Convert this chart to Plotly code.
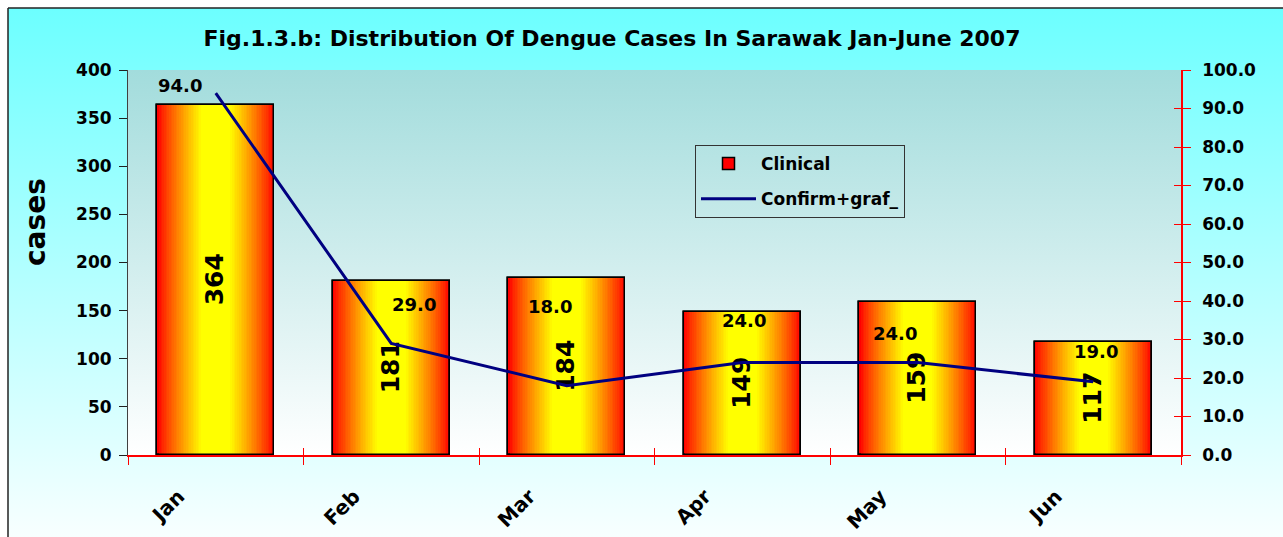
import base64
import plotly.graph_objects as go

months = ["Jan", "Feb", "Mar", "Apr", "May", "Jun"]
clinical = [364, 181, 184, 149, 159, 117]
confirm = [94.0, 29.0, 18.0, 24.0, 24.0, 19.0]

# label offsets (styling) for the line data labels, in px
lab_dx = [-36, 23, -17, 2, -23, 3]
lab_dy = [8, 39, 79, 42, 29, 30]

W, H = 1283, 537
L, R, T, B = 128, 102, 70, 82
PW, PH = W - L - R, H - T - B

FONT = "DejaVu Sans"


def grad_svg(stops):
    st = "".join(f'<stop offset="{o}" stop-color="{c}"/>' for o, c in stops)
    svg = ('<svg xmlns="http://www.w3.org/2000/svg" width="100" height="100" '
           'preserveAspectRatio="none" viewBox="0 0 100 100">'
           '<defs><linearGradient id="g" x1="0" y1="0" x2="0" y2="1">' + st +
           '</linearGradient></defs><rect x="0" y="0" width="100" height="100" fill="url(#g)"/></svg>')
    return "data:image/svg+xml;base64," + base64.b64encode(svg.encode()).decode()


def px_x(px):
    return (px - L) / PW


def px_y(py):
    return (H - B - py) / PH


fig = go.Figure()

# gradient bars: overlay bars of decreasing width
full_w = 0.667
N = 26
for i in range(N + 1):
    d = 1.0 - i * (0.75 / N)
    t = max(0.0, (d - 0.25) / 0.75)
    g = int(round(255 * (1 - t) ** 0.85))
    col = f"rgb(255,{g},0)"
    first = i == 0
    fig.add_trace(go.Bar(
        x=months, y=clinical, width=full_w * d,
        marker=dict(color=col, line=dict(color="black", width=1.5 if first else 0)),
        name="Clinical", showlegend=first, legendgroup="bars",
        hoverinfo="skip" if not first else None,
    ))

# outline + value text
fig.add_trace(go.Bar(
    x=months, y=clinical, width=full_w,
    marker=dict(color="rgba(0,0,0,0)", line=dict(color="black", width=1.5)),
    text=[str(v) for v in clinical], textposition="inside", textangle=-90,
    insidetextanchor="middle",
    textfont=dict(family=FONT, size=25, color="black", weight="bold"),
    showlegend=False, legendgroup="bars",
))

fig.add_trace(go.Scatter(
    x=months, y=confirm, yaxis="y2", mode="lines",
    line=dict(color="#000080", width=3),
    name="Confirm+graf_", legendgroup="line",
))

# invisible helper trace so that the "inside" tick overlay axes are drawn
fig.add_trace(go.Scatter(
    x=months, y=confirm, xaxis="x2", yaxis="y3", mode="none",
    showlegend=False, hoverinfo="skip",
))

for m, v, dx, dy in zip(months, confirm, lab_dx, lab_dy):
    fig.add_annotation(x=m, y=v, yref="y2", text=f"{v:.1f}", showarrow=False,
                       xshift=dx, yshift=dy,
                       font=dict(family=FONT, size=18, color="black", weight="bold"))

fig.add_annotation(x=px_x(35), y=px_y(222), xref="paper", yref="paper", text="cases",
                   textangle=-90, showarrow=False, xanchor="center", yanchor="middle",
                   font=dict(family=FONT, size=28, color="black", weight="bold"))

fig.update_layout(
    width=W, height=H,
    margin=dict(l=L, r=R, t=T, b=B, autoexpand=False),
    paper_bgcolor="white", plot_bgcolor="rgba(0,0,0,0)",
    barmode="overlay", bargap=0,
    title=dict(text="Fig.1.3.b: Distribution Of Dengue Cases In Sarawak Jan-June 2007",
               x=612 / W, xanchor="center", y=1 - 38 / H, yanchor="middle",
               xref="container", yref="container",
               font=dict(family=FONT, size=22, color="black", weight="bold")),
    xaxis=dict(showline=True, linecolor="red", linewidth=1.5, ticks="outside",
               tickcolor="red", ticklen=8, tickson="boundaries", tickangle=-45,
               ticklabelstandoff=20, ticklabelshift=-37, automargin=False,
               tickfont=dict(family=FONT, size=20, color="black", weight="bold"),
               showgrid=False, zeroline=False),
    xaxis2=dict(overlaying="x", matches="x", anchor="y3", side="bottom", showline=False,
                ticks="inside", tickcolor="red", ticklen=7, tickson="boundaries",
                showticklabels=False, showgrid=False, zeroline=False, automargin=False),
    yaxis=dict(range=[0, 400], dtick=50, showline=True, linecolor="#404040", linewidth=1,
               ticks="outside", tickcolor="#202020", ticklen=8, showgrid=False,
               zeroline=False, ticklabelstandoff=4, automargin=False,
               tickfont=dict(family=FONT, size=17, color="black", weight="bold")),
    yaxis2=dict(range=[0, 100], dtick=10, tickformat=".1f", overlaying="y", side="right",
                showline=True, linecolor="red", linewidth=1.5, ticks="outside",
                tickcolor="red", ticklen=8, showgrid=False, zeroline=False,
                ticklabelstandoff=8, automargin=False,
                tickfont=dict(family=FONT, size=17, color="black", weight="bold")),
    yaxis3=dict(range=[0, 100], dtick=10, overlaying="y", side="right", anchor="x2",
                showline=False, ticks="inside", tickcolor="red", ticklen=7,
                showticklabels=False, showgrid=False, zeroline=False, automargin=False),
    legend=dict(x=px_x(695), y=px_y(145), xanchor="left", yanchor="top",
                bgcolor="rgba(0,0,0,0)", bordercolor="#333333", borderwidth=1,
                traceorder="grouped", tracegroupgap=10, itemwidth=55,
                font=dict(family=FONT, size=17, color="black", weight="bold")),
    showlegend=True,
    images=[
        dict(source=grad_svg([(0, "#6CFFFF"), (1, "#F8FFFF")]), xref="paper", yref="paper",
             x=px_x(8), y=px_y(8), sizex=(W - 8) / PW, sizey=(H - 8) / PH,
             xanchor="left", yanchor="top", sizing="stretch", layer="below"),
        dict(source=grad_svg([(0, "#A2DCDC"), (1, "#FFFFFF")]), xref="paper", yref="paper",
             x=0, y=1, sizex=1, sizey=1,
             xanchor="left", yanchor="top", sizing="stretch", layer="below"),
    ],
    shapes=[
        dict(type="line", xref="paper", yref="paper", x0=px_x(8), y0=px_y(8),
             x1=px_x(W + 20), y1=px_y(8), line=dict(color="#222222", width=1.5), layer="above"),
        dict(type="line", xref="paper", yref="paper", x0=px_x(8), y0=px_y(8),
             x1=px_x(8), y1=px_y(H + 20), line=dict(color="#222222", width=1.5), layer="above"),
    ],
)

fig.write_html("out.html", config={"displayModeBar": False},
               post_script="document.body.style.margin='0px';")
